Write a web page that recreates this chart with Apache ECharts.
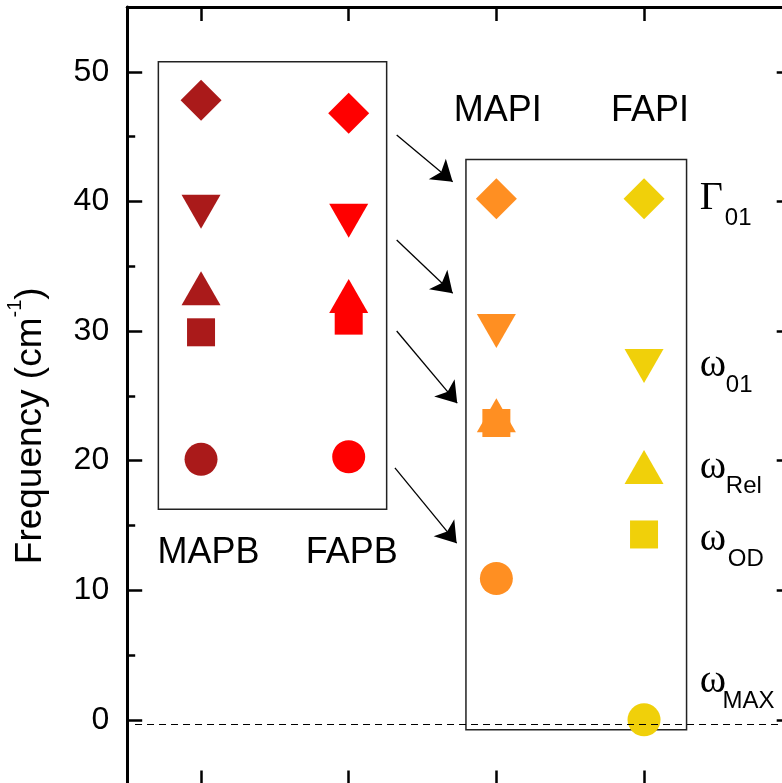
<!DOCTYPE html>
<html><head><meta charset="utf-8">
<script src="https://cdn.jsdelivr.net/npm/echarts@6/dist/echarts.min.js"></script>
<style>html,body{margin:0;padding:0;background:#fff}#c{width:782px;height:783px}</style>
</head><body><div id="c"></div>
<script>
// ---- data ----
const categories = ['MAPB', 'FAPB', 'MAPI', 'FAPI'];
const categoryX = [1, 2, 3, 4];
const modes = ['Γ01', 'ω01', 'ωRel', 'ωOD', 'ωMAX'];
const MAPB = [47.8, 39.2, 33.3, 29.9, 20.1];
const FAPB = [46.8, 38.5, 32.7, 30.8, 20.3];
const MAPI = [40.2, 30.0, 23.5, 22.9, 10.9];
const FAPI = [40.2, 27.3, 19.5, 14.3, 0.0];
const yMajorTicks = [0, 10, 20, 30, 40, 50];
const yMinorTicks = [-5, 5, 15, 25, 35, 45, 55];
const xTicks = [1, 2, 3, 4];

// ---- annotations (in data units) ----
const groupLabelX = [1.05, 2.02, 3.01, 4.04];
const groupLabelY = [12.9, 12.9, 47.0, 47.0];
const modeGreek = ['Γ', 'ω', 'ω', 'ω', 'ω'];
const modeSub = ['01', '01', 'Rel', 'OD', 'MAX'];
const modeGreekY = [40.2, 27.33, 19.43, 13.93, 2.98];
const modeSubX = [4.547, 4.554, 4.554, 4.567, 4.532];
const modeSubY = [38.69, 25.84, 18.0, 12.39, 1.42];
const modeGreekX = 4.378;
const arrows = [
  [2.325, 45.12, 2.704, 41.52],
  [2.325, 37.02, 2.704, 32.91],
  [2.325, 30.0, 2.735, 24.43],
  [2.313, 19.44, 2.731, 13.63]
];
const boxes = [
  [0.711, 50.77, 2.257, 16.25],
  [2.794, 43.24, 4.288, -0.77]
];
const zeroLineY = -0.33;

// ---- styles ----
const colors = ['#AA1A1A', '#FF0000', '#FF8F22', '#F0D00A'];
const modeSymbols = ['diamond', 'triangle', 'triangle', 'rect', 'circle'];
const modeRotate = [0, 180, 0, 0, 0];
const modeSizes = [[41, 41], [39, 34], [39, 34], [28, 28], [33, 33]];
const SANS = 'Liberation Sans';
const SERIF = 'Liberation Serif';

const groups = [MAPB, FAPB, MAPI, FAPI];

const markerSeries = groups.map((vals, g) => ({
  name: categories[g],
  type: 'scatter',
  z: 3,
  data: vals.map((v, i) => ({
    value: [categoryX[g], v],
    symbol: modeSymbols[i],
    symbolRotate: modeRotate[i],
    symbolSize: modeSizes[i]
  })),
  itemStyle: { color: colors[g], opacity: 1 }
}));

function lbl(text, family, size, align) {
  return { show: true, formatter: text, fontFamily: family, fontSize: size, align: align,
    verticalAlign: 'middle', color: '#000', opacity: 1, textBorderWidth: 0, position: [0, 0] };
}

const textData = [];
categories.forEach((c, i) => {
  textData.push({ value: [groupLabelX[i], groupLabelY[i]], label: lbl(c, SANS, 36, 'center') });
});
modes.forEach((m, i) => {
  textData.push({ value: [modeGreekX, modeGreekY[i]], label: lbl(modeGreek[i], SERIF, 40, 'left') });
  textData.push({ value: [modeSubX[i], modeSubY[i]], label: lbl(modeSub[i], SANS, 24, 'left') });
});

const annotationSeries = {
  name: 'annotations',
  type: 'scatter',
  z: 4,
  symbolSize: 0,
  itemStyle: { color: 'rgba(0,0,0,0)' },
  silent: true,
  data: textData,
  label: { show: true, position: [0, 0], color: '#000' },
  markArea: {
    silent: true,
    z: 1,
    itemStyle: { color: 'rgba(0,0,0,0)', borderColor: '#222', borderWidth: 1.5 },
    data: boxes.map(b => [{ coord: [b[0], b[1]] }, { coord: [b[2], b[3]] }])
  },
  markLine: {
    silent: true,
    animation: false,
    label: { show: false },
    data: arrows.map(a => [
      { coord: [a[0], a[1]], symbol: 'none', lineStyle: { color: '#000', width: 1.3, type: 'solid' } },
      { coord: [a[2], a[3]], symbol: 'arrow', symbolSize: 20 }
    ]).concat([[
      { coord: [0.553, zeroLineY], symbol: 'none', lineStyle: { color: '#000', width: 1, type: [7, 5] } },
      { coord: [5, zeroLineY], symbol: 'none' }
    ]]),
    lineStyle: { color: '#000', width: 1.3 },
    itemStyle: { color: '#000' }
  }
};

const axisLineStyle = { show: true, onZero: false, lineStyle: { color: '#000', width: 3 } };
const yBase = { type: 'value', min: -5, max: 55, splitLine: { show: false } };
const xBase = { type: 'value', min: 0.5, max: 5, splitLine: { show: false } };

const option = {
  animation: false,
  backgroundColor: '#fff',
  grid: { left: 127.2, top: 7, width: 664.5, height: 777.6, containLabel: false, outerBoundsMode: 'none' },
  xAxis: [
    Object.assign({}, xBase, {
      position: 'bottom', axisLine: axisLineStyle,
      axisTick: { show: true, inside: true, length: 14, customValues: xTicks, lineStyle: { color: '#000', width: 2.5 } },
      axisLabel: { show: false }
    }),
    Object.assign({}, xBase, {
      position: 'top', axisLine: axisLineStyle,
      axisTick: { show: true, inside: true, length: 14, customValues: xTicks, lineStyle: { color: '#000', width: 2.5 } },
      axisLabel: { show: false }
    })
  ],
  yAxis: [
    Object.assign({}, yBase, {
      position: 'left', axisLine: axisLineStyle,
      axisTick: { show: true, inside: true, length: 15, customValues: yMajorTicks, lineStyle: { color: '#000', width: 2.5 } },
      axisLabel: { show: true, customValues: yMajorTicks, fontFamily: SANS, fontSize: 32, color: '#000', margin: 18 },
      name: 'Frequency (cm{sup|-1})',
      nameLocation: 'middle',
      nameRotate: 90,
      nameGap: 71,
      nameTextStyle: {
        fontFamily: SANS, fontSize: 37, color: '#000', lineHeight: 51,
        padding: [0, 60, 0, 0],
        rich: { sup: { fontFamily: SANS, fontSize: 20, lineHeight: 20, verticalAlign: 'top', color: '#000' } }
      }
    }),
    Object.assign({}, yBase, {
      position: 'left', axisLine: { show: false, onZero: false },
      axisTick: { show: true, inside: true, length: 8, customValues: yMinorTicks, lineStyle: { color: '#000', width: 2.5 } },
      axisLabel: { show: false }
    }),
    Object.assign({}, yBase, {
      position: 'right', axisLine: axisLineStyle,
      axisTick: { show: true, inside: true, length: 15, customValues: yMajorTicks, lineStyle: { color: '#000', width: 2.5 } },
      axisLabel: { show: false }
    }),
    Object.assign({}, yBase, {
      position: 'right', axisLine: { show: false, onZero: false },
      axisTick: { show: true, inside: true, length: 8, customValues: yMinorTicks, lineStyle: { color: '#000', width: 2.5 } },
      axisLabel: { show: false }
    })
  ],
  series: markerSeries.concat([annotationSeries])
};

const chart = echarts.init(document.getElementById('c'), null, { renderer: 'canvas' });
chart.setOption(option);
</script>
</body></html>
